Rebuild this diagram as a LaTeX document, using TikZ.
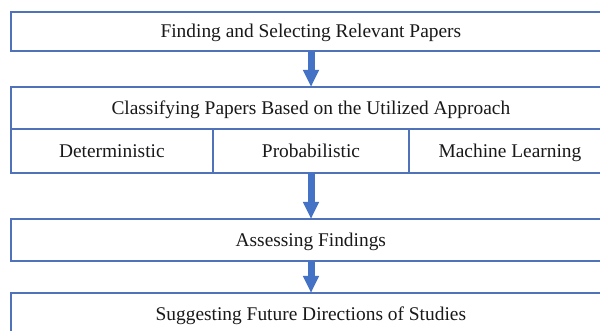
\documentclass[tikz,border=0pt]{standalone}
\usepackage{fontspec}
\setmainfont{Liberation Serif}
\usetikzlibrary{arrows.meta}
\definecolor{boxblue}{RGB}{79,114,185}
\definecolor{arrblue}{RGB}{68,114,196}
\begin{document}
\begin{tikzpicture}[x=1pt,y=-1pt,
  box/.style={draw=boxblue, line width=1.6pt, inner sep=0pt, outer sep=0pt, rectangle,
    text height=17pt, text depth=4pt,
    font=\fontsize{19.4}{22}\selectfont, text=black!90},
  flow/.style={draw=arrblue, line width=7pt, -{Triangle[width=15pt,length=17pt]}}]
\useasboundingbox (0,0) rectangle (600,331);
\fill[white] (0,0) rectangle (600,331);
\begin{scope}
\clip (0,0) rectangle (600,331);
\node[box, minimum width=600.3pt, minimum height=39pt] (b1) at (310.85,31.5) {Finding and Selecting Relevant Papers};
\node[box, minimum width=600.3pt, minimum height=42pt] (b2) at (310.85,108) {Classifying Papers Based on the Utilized Approach};
\node[box, minimum width=202.3pt, minimum height=44pt] (c1) at (111.85,151) {Deterministic};
\node[box, minimum width=196pt, minimum height=44pt] (c2) at (311,151) {Probabilistic};
\node[box, minimum width=202pt, minimum height=44pt] (c3) at (510,151) {Machine Learning};
\node[box, minimum width=600.3pt, minimum height=42pt] (b3) at (310.85,240) {Assessing Findings};
\node[box, minimum width=600.3pt, minimum height=42pt] (b4) at (310.85,314) {Suggesting Future Directions of Studies};
\draw[flow] (b1.south -| c2.center) -- (b2.north -| c2.center);
\draw[flow] (c2.south) -- (b3.north -| c2.south);
\draw[flow] (b3.south -| c2.center) -- (b4.north -| c2.center);
\end{scope}
\end{tikzpicture}
\end{document}
